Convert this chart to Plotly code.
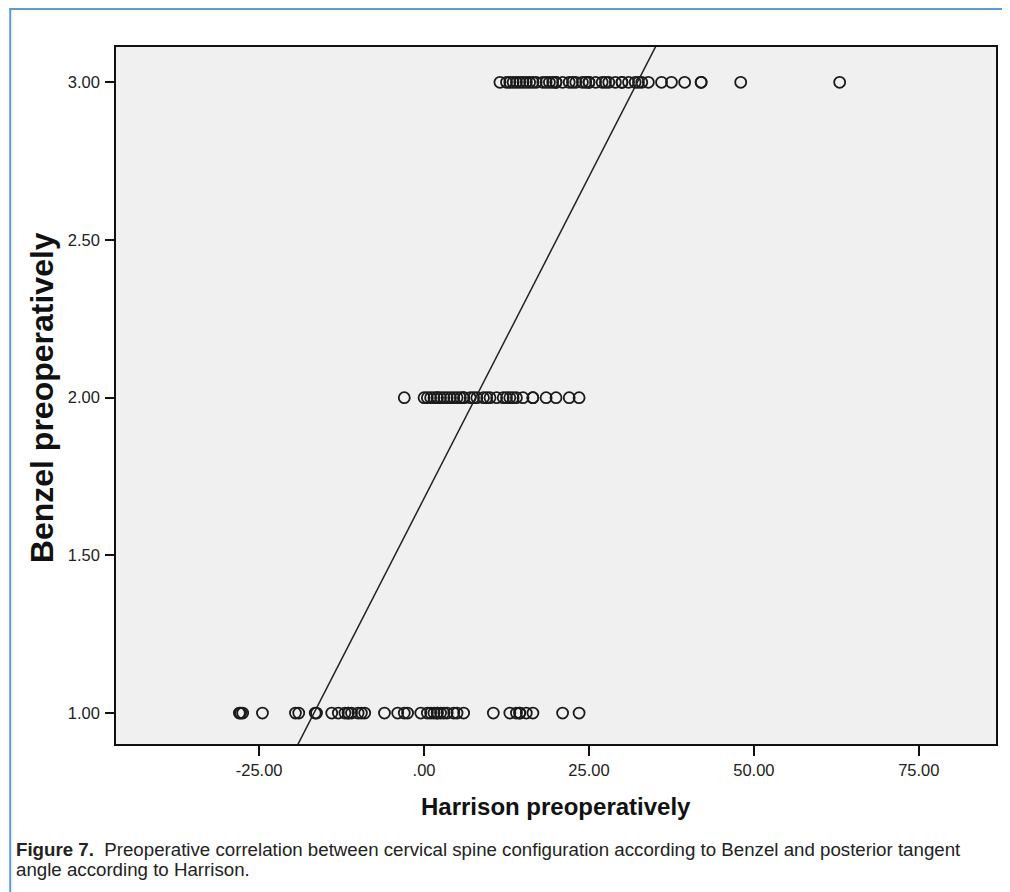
import plotly.graph_objects as go

# Harrison preoperatively values for each Benzel preoperative grade
benzel_levels = [1.0, 2.0, 3.0]
harrison_benzel_1 = [-28, -27.5, -27.8, -24.5, -19.5, -19, -16.5, -16.3, -14, -13, -12,
                     -11.5, -11.5, -11, -10, -9.5, -9, -6, -4, -3, -2.5, -0.5, 0.5, 1,
                     1.5, 2, 2, 2.5, 3, 3.5, 4.5, 5, 6, 10.5, 13, 14, 14.5, 14.5, 15.5,
                     16.5, 21, 23.5]
harrison_benzel_2 = [-3, 0, 0.5, 1, 1.5, 2, 2, 2.5, 3, 3.5, 4, 4.5, 5, 5.5, 6, 6, 7, 7.5,
                     8, 9, 9.5, 10, 11, 12, 12.5, 13, 13.5, 14, 15, 16.5, 16.5, 18.5, 20,
                     22, 23.5]
harrison_benzel_3 = [11.5, 12.5, 13, 13.5, 14, 14.5, 15, 15.5, 16, 16.5, 17, 18, 18.5, 19,
                     19.5, 20, 20, 21, 22, 22.5, 23, 24, 24.5, 25, 25, 26, 27, 27.5, 28,
                     29, 30, 30, 31, 32, 32.5, 33, 34, 36, 37.5, 39.5, 42, 42, 48, 63]

# Linear fit line (Benzel = intercept + slope * Harrison)
fit_intercept = 1.681
fit_slope = 0.0408

x_range = [-46.7, 86.7]
y_range = [0.902, 3.112]
x_tickvals = [-25, 0, 25, 50, 75]
x_ticktext = ["-25.00", ".00", "25.00", "50.00", "75.00"]
y_tickvals = [1.0, 1.5, 2.0, 2.5, 3.0]

xs, ys = [], []
for lvl, vals in zip(benzel_levels, [harrison_benzel_1, harrison_benzel_2, harrison_benzel_3]):
    xs.extend(vals)
    ys.extend([lvl] * len(vals))

fig = go.Figure()
fig.add_trace(go.Scatter(
    x=xs, y=ys, mode="markers",
    marker=dict(symbol="circle-open", size=11, color="#1a1a1a", line=dict(width=1.8, color="#1a1a1a")),
    showlegend=False, hoverinfo="x+y"))

fit_x = [x_range[0], x_range[1]]
fit_y = [fit_intercept + fit_slope * v for v in fit_x]
fig.add_trace(go.Scatter(x=fit_x, y=fit_y, mode="lines",
                         line=dict(color="#222222", width=1.5), showlegend=False))

axis_common = dict(showline=True, linecolor="#111111", linewidth=1.5, mirror=True,
                   ticks="outside", tickwidth=1.5, tickcolor="#111111",
                   showgrid=False, zeroline=False,
                   tickfont=dict(family="Liberation Sans, Arial", size=16.5, color="#222222"))

# Browser body margin (8px) offsets the figure inside the page
fig.update_layout(
    width=1002, height=884,
    margin=dict(l=108, r=12, t=39, b=148),
    paper_bgcolor="white", plot_bgcolor="#f0f0f0",
    xaxis=dict(range=x_range, tickvals=x_tickvals, ticktext=x_ticktext,
               ticklen=10, **axis_common),
    yaxis=dict(range=y_range, tickvals=y_tickvals, tickformat=".2f",
               ticklen=9, ticklabelstandoff=2, **axis_common),
)

pw, ph = 882.0, 697.0
def px_x(p):
    return (p - 116) / pw
def px_y(p):
    return (744 - p) / ph

fig.add_annotation(text="<b>Harrison preoperatively</b>", xref="paper", yref="paper",
                   x=0.5, y=px_y(806), xanchor="center", yanchor="middle", showarrow=False,
                   font=dict(family="Liberation Sans, Arial", size=24, color="#111111"))
fig.add_annotation(text="<b>Benzel preoperatively</b>", xref="paper", yref="paper",
                   x=px_x(42), y=px_y(398), xanchor="center", yanchor="middle", showarrow=False,
                   textangle=-90,
                   font=dict(family="Liberation Sans, Arial", size=32, color="#111111"))

cap_font = dict(family="Liberation Sans, Arial", size=18.7, color="#222222")
fig.add_annotation(text="<b>Figure 7.</b>  Preoperative correlation between cervical spine configuration according to Benzel and posterior tangent",
                   xref="paper", yref="paper", x=px_x(14), y=px_y(849), xanchor="left",
                   yanchor="middle", showarrow=False, font=cap_font)
fig.add_annotation(text="angle according to Harrison.",
                   xref="paper", yref="paper", x=px_x(14), y=px_y(870), xanchor="left",
                   yanchor="middle", showarrow=False, font=cap_font)

blue = "#5b9bd5"
fig.add_shape(type="line", xref="paper", yref="paper", x0=px_x(10), x1=px_x(10),
              y0=px_y(8), y1=px_y(900), line=dict(color=blue, width=2))
fig.add_shape(type="line", xref="paper", yref="paper", x0=px_x(9), x1=px_x(1012),
              y0=px_y(9), y1=px_y(9), line=dict(color=blue, width=2))

fig.write_html("out.html")
